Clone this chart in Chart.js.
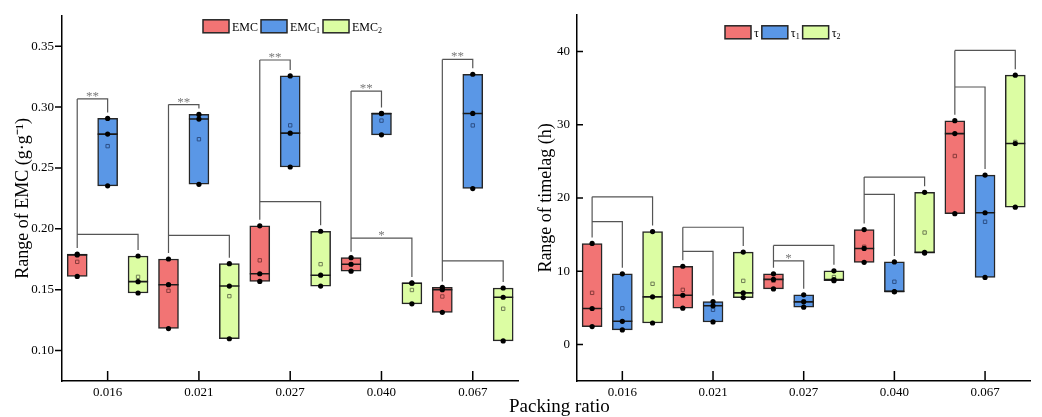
<!DOCTYPE html>
<html>
<head>
<meta charset="utf-8">
<script src="https://cdn.jsdelivr.net/npm/chart.js@4/dist/chart.umd.min.js"></script>
<style>
  body { margin: 0; background: #fff; width: 1042px; height: 417px; position: relative; overflow: hidden; font-family: "Liberation Serif", serif; }
  #left { position: absolute; left: 0; top: 0; }
  #right { position: absolute; left: 530px; top: 0; }
  #xtitle { position: absolute; left: 509px; top: 396px; font-size: 19px; line-height: 1; color: #000; }
</style>
</head>
<body>
<canvas id="left" width="530" height="417"></canvas>
<canvas id="right" width="512" height="417"></canvas>
<div id="xtitle">Packing ratio</div>
<script>
// packing ratio groups, each group holds 3 boxes (x slots 3g, 3g+1, 3g+2)
const groups = ["0.016", "0.021", "0.027", "0.040", "0.067"];
const tickSlots = [1, 4, 7, 10, 13];

// EMC range, three samples per box
const emc  = [[0.1793, 0.1785, 0.1609], [0.1752, 0.1541, 0.1181], [0.2025, 0.1631, 0.1568], [0.1763, 0.1709, 0.1652], [0.1519, 0.1500, 0.1314]];
const emc1 = [[0.2907, 0.2778, 0.2353], [0.2940, 0.2902, 0.2366], [0.3256, 0.2786, 0.2508], [0.2948, 0.2947, 0.2772], [0.3270, 0.2948, 0.2331]];
const emc2 = [[0.1777, 0.1566, 0.1473], [0.1714, 0.1530, 0.1097], [0.1980, 0.1619, 0.1530], [0.1556, 0.1553, 0.1384], [0.1514, 0.1438, 0.1079]];

// timelag range (h)
const tau  = [[13.78, 4.90, 2.43], [10.67, 6.71, 4.95], [9.64, 8.87, 7.57], [15.68, 13.10, 11.20], [30.54, 28.78, 17.84]];
const tau1 = [[9.64, 3.15, 1.98], [5.85, 5.27, 3.06], [6.76, 5.81, 5.08], [11.26, 7.22, 7.18], [23.11, 17.97, 9.14]];
const tau2 = [[15.40, 6.49, 2.92], [12.60, 7.03, 6.39], [10.04, 8.84, 8.69], [20.76, 12.58, 12.47], [36.76, 27.43, 18.73]];

// significance brackets: level of the red-blue and red-green bars, and their marks
const emcBrkBlue  = [0.3067, 0.3021, 0.3387, 0.3132, 0.3392];
const emcBrkGreen = [0.1955, 0.1947, 0.2223, 0.1923, 0.1736];
const emcStarBlue  = ["**", "**", "**", "**", "**"];
const emcStarGreen = ["", "", "", "*", ""];
const tauBrkBlue  = [16.76, 12.70, 11.39, 20.49, 35.14];
const tauBrkGreen = [20.14, 15.99, 13.51, 22.84, 40.14];
const tauStarBlue  = ["", "", "*", "", ""];
const tauStarGreen = ["", "", "", "", ""];

const emcTicks = [0.10, 0.15, 0.20, 0.25, 0.30, 0.35];
const tauTicks = [0, 10, 20, 30, 40];

const fills = ["#F27474", "#5A97E6", "#DCFDA3"];
const meanColors = ["#8a3b3b", "#2c4f86", "#6f7d55"];
const FONT = '"Liberation Serif", "Times New Roman", serif';

Chart.defaults.font.family = FONT;
Chart.defaults.color = "#000";

const median = (v) => [...v].sort((a, b) => a - b)[1];
const mean = (v) => v.reduce((a, b) => a + b, 0) / v.length;

function boxDatasets(series) {
  const sets = [];
  series.forEach((vals, s) => {
    sets.push({
      type: "bar",
      data: vals.map((v, g) => ({ x: g * 3 + s, y: [Math.min(...v), Math.max(...v)] })),
      backgroundColor: fills[s],
      borderColor: "#262626",
      borderWidth: 1.5,
      borderSkipped: false,
      barThickness: 20,
      grouped: false,
      order: 3
    });
    sets.push({
      type: "scatter",
      data: vals.map((v, g) => ({ x: g * 3 + s, y: median(v) })),
      pointStyle: "line",
      pointRadius: 10,
      pointBorderColor: "#1a1a1a",
      pointBorderWidth: 1.6,
      order: 2
    });
    sets.push({
      type: "scatter",
      data: vals.map((v, g) => ({ x: g * 3 + s, y: mean(v) })),
      pointStyle: "rect",
      pointRadius: 2.4,
      pointBackgroundColor: "rgba(0,0,0,0)",
      pointBorderColor: meanColors[s],
      pointBorderWidth: 1,
      order: 1
    });
    sets.push({
      type: "scatter",
      data: vals.flatMap((v, g) => v.map((y) => ({ x: g * 3 + s, y: y }))),
      pointStyle: "circle",
      pointRadius: 2.6,
      pointBackgroundColor: "#000",
      pointBorderWidth: 0,
      order: 0
    });
  });
  return sets;
}

const tickMarks = {
  id: "tickMarks",
  afterDraw(chart, args, o) {
    const { ctx, chartArea: a, scales: { x, y } } = chart;
    ctx.save();
    ctx.strokeStyle = "#000";
    ctx.lineWidth = 1.5;
    ctx.beginPath();
    x.ticks.forEach((t) => {
      const px = x.getPixelForValue(t.value);
      ctx.moveTo(px, a.bottom);
      ctx.lineTo(px, a.bottom - 10);
    });
    y.ticks.forEach((t) => {
      const py = y.getPixelForValue(t.value);
      ctx.moveTo(a.left, py);
      ctx.lineTo(a.left + o.yLen, py);
    });
    ctx.stroke();
    ctx.restore();
  }
};

const brackets = {
  id: "brackets",
  afterDatasetsDraw(chart, args, o) {
    const { ctx, scales: { x, y } } = chart;
    ctx.save();
    ctx.strokeStyle = "#555";
    ctx.lineWidth = 1.2;
    ctx.fillStyle = "#7a7a7a";
    ctx.font = "13px " + FONT;
    ctx.textAlign = "center";
    ctx.textBaseline = "alphabetic";
    const topOf = (vals) => y.getPixelForValue(Math.max(...vals)) - 6;
    o.blue.forEach((lvB, g) => {
      const xr = x.getPixelForValue(g * 3);
      const xb = x.getPixelForValue(g * 3 + 1);
      const xg = x.getPixelForValue(g * 3 + 2);
      const yB = y.getPixelForValue(lvB);
      const yG = y.getPixelForValue(o.green[g]);
      ctx.beginPath();
      ctx.moveTo(xr, topOf(o.series[0][g]));
      ctx.lineTo(xr, Math.min(yB, yG));
      ctx.moveTo(xr, yB);
      ctx.lineTo(xb, yB);
      ctx.lineTo(xb, topOf(o.series[1][g]));
      ctx.moveTo(xr, yG);
      ctx.lineTo(xg, yG);
      ctx.lineTo(xg, topOf(o.series[2][g]));
      ctx.stroke();
      if (o.starBlue[g]) ctx.fillText(o.starBlue[g], (xr + xb) / 2, yB + 1);
      if (o.starGreen[g]) ctx.fillText(o.starGreen[g], (xr + xg) / 2, yG + 1);
    });
    ctx.restore();
  }
};

const boxLegend = {
  id: "boxLegend",
  afterDraw(chart, args, o) {
    const { ctx, chartArea: a } = chart;
    let x = a.left + o.offset;
    const y = a.top + o.top;
    ctx.save();
    o.items.forEach((it, i) => {
      ctx.fillStyle = fills[i];
      ctx.fillRect(x, y, 26, 13);
      ctx.strokeStyle = "#262626";
      ctx.lineWidth = 1.5;
      ctx.strokeRect(x, y, 26, 13);
      x += 29;
      ctx.fillStyle = "#000";
      ctx.textAlign = "left";
      ctx.textBaseline = "alphabetic";
      ctx.font = o.size + "px " + FONT;
      ctx.fillText(it[0], x, y + 11);
      x += ctx.measureText(it[0]).width;
      if (it[1]) {
        ctx.font = "8px " + FONT;
        ctx.fillText(it[1], x, y + 13.5);
        x += ctx.measureText(it[1]).width;
      }
      x += 3;
    });
    ctx.restore();
  }
};

function makeChart(id, series, cfg) {
  return new Chart(document.getElementById(id), {
    type: "bar",
    data: { datasets: boxDatasets(series) },
    options: {
      responsive: false,
      animation: false,
      events: [],
      layout: { padding: { top: 10, right: cfg.padRight, left: 0, bottom: 0 } },
      scales: {
        x: {
          type: "linear",
          min: -0.5,
          max: 14.5,
          offset: false,
          grid: { display: false, drawTicks: false },
          border: { color: "#000", width: 1.5 },
          afterBuildTicks: (s) => { s.ticks = tickSlots.map((v) => ({ value: v })); },
          afterFit: (s) => { s.height = 36; },
          ticks: {
            autoSkip: false,
            maxRotation: 0,
            padding: 4,
            font: { size: 13 },
            color: "#000",
            callback: (v, i) => groups[i]
          }
        },
        y: {
          min: cfg.min,
          max: cfg.max,
          grid: { display: false, drawTicks: false },
          border: { color: "#000", width: 1.5 },
          afterBuildTicks: (s) => { s.ticks = cfg.ticks.map((v) => ({ value: v })); },
          afterFit: (s) => { s.width = cfg.yWidth; },
          ticks: {
            padding: cfg.tickPad,
            font: { size: 13 },
            color: "#000",
            callback: cfg.fmt
          },
          title: {
            display: true,
            text: cfg.title,
            font: { size: 18 },
            color: "#000",
            padding: { top: cfg.titlePad, bottom: 0 }
          }
        }
      },
      plugins: {
        legend: { display: false },
        tooltip: { enabled: false },
        tickMarks: { yLen: cfg.yLen },
        brackets: cfg.brackets,
        boxLegend: cfg.legend
      }
    },
    plugins: [tickMarks, brackets, boxLegend]
  });
}

makeChart("left", [emc, emc1, emc2], {
  min: 0.075, max: 0.375, ticks: emcTicks, fmt: (v) => v.toFixed(2),
  yWidth: 62, padRight: 8, tickPad: 8, titlePad: 12, yLen: -7,
  title: "Range of EMC (g·g⁻¹)",
  brackets: { series: [emc, emc1, emc2], blue: emcBrkBlue, green: emcBrkGreen, starBlue: emcStarBlue, starGreen: emcStarGreen },
  legend: { offset: 141, top: 4, size: 12, items: [["EMC", ""], ["EMC", "1"], ["EMC", "2"]] }
});

makeChart("right", [tau, tau1, tau2], {
  min: -5, max: 45, ticks: tauTicks, fmt: (v) => String(v),
  yWidth: 47, padRight: 5, tickPad: 7, titlePad: 5, yLen: 6,
  title: "Range of timelag (h)",
  brackets: { series: [tau, tau1, tau2], blue: tauBrkBlue, green: tauBrkGreen, starBlue: tauStarBlue, starGreen: tauStarGreen },
  legend: { offset: 148, top: 11, size: 12, items: [["τ", ""], ["τ", "1"], ["τ", "2"]] }
});
</script>
</body>
</html>
